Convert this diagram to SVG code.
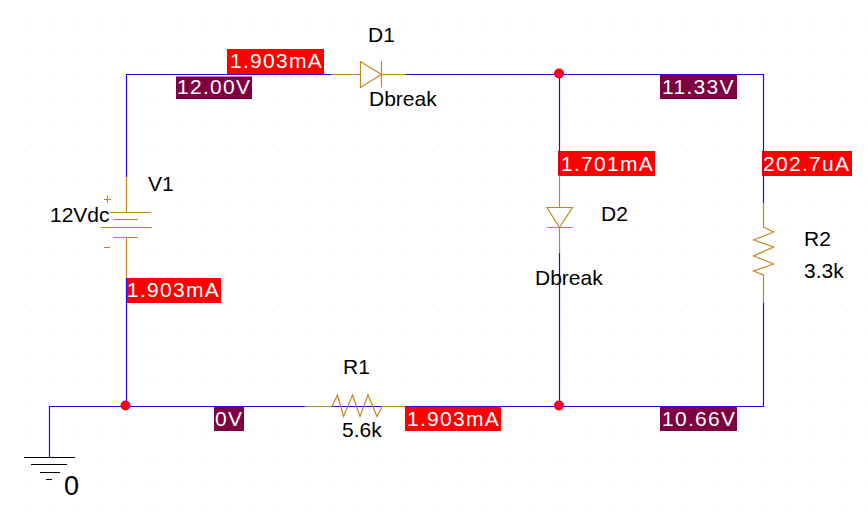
<svg xmlns="http://www.w3.org/2000/svg" width="868" height="526" viewBox="0 0 868 526">
<style>
text{font-family:"Liberation Sans",Arial,sans-serif;font-size:21px;fill:#000}
.w{fill:none;stroke:#3300e6;stroke-width:1.2}
.p{fill:none;stroke:#c8841c;stroke-width:1.2}
.k{fill:none;stroke:#000;stroke-width:1.2}
.i{fill:#ff0000}
.v{fill:#7f0040}
.t{fill:#fff;font-size:21px;letter-spacing:1.3px}
.n{fill:#ff0000}
</style>
<defs>
<pattern id="grid" x="24" y="23.5" width="25.5" height="25.5" patternUnits="userSpaceOnUse"><rect x="0" y="0" width="1" height="1" fill="#c4e6f6"/></pattern>
</defs>
<rect width="868" height="526" fill="#fff"/>
<rect width="868" height="526" fill="url(#grid)"/>
<g id="boxes">
<rect class="i" x="227" y="49" width="97" height="25"/>
<rect class="v" x="176" y="76.500" width="76" height="22.500"/>
<rect class="v" x="660" y="74.500" width="77" height="24.500"/>
<rect class="i" x="558" y="151" width="97" height="25"/>
<rect class="i" x="762" y="151" width="90" height="25"/>
<rect class="i" x="126" y="278" width="95" height="25"/>
<rect class="v" x="214" y="407" width="30" height="24"/>
<rect class="i" x="405" y="407" width="96" height="24"/>
<rect class="v" x="660" y="407" width="77" height="24"/>
</g>
<g id="connectors">
<path class="w" d="M126.500 177V74.500H331M406 74.500H763.500V203M763.500 303V406.500H49.500V457.500M126.500 278V406.500M559.500 74.500V175M559.500 253V406.500"/>
</g>
<g id="V1">
<path class="p" d="M126.500 177V212.500M110 212.500H151M113 219.500H138M101 227.500H152M113 237.500H138M126.500 237.500V278M104 199.500H111M107.500 195.500V203M104 247.500H110"/>
<text x="148" y="191">V1</text>
<text x="50" y="222">12Vdc</text>
</g>
<g id="D1">
<path class="p" d="M331 74.500H360.500M360.500 61.500V87.500L381.500 74.500ZM381.500 61V87.500M381.500 74.500H406"/>
<text x="368" y="42">D1</text>
<text x="369" y="106">Dbreak</text>
</g>
<g id="D2">
<path class="p" d="M559.500 175V207.500M547 207.500H572.500L559.500 227.500ZM547 227.500H573M559.500 227.500V253"/>
<text x="601" y="221">D2</text>
<text x="535" y="285">Dbreak</text>
</g>
<g id="R1">
<path class="p" d="M305 406.500H332L337.500 395L343.500 416.500L352.500 395L360 416.500L368 395L377 416.500L382 406.500H405"/>
<text x="343" y="374">R1</text>
<text x="342" y="437">5.6k</text>
</g>
<g id="R2">
<path class="p" d="M763.500 203V227L773.500 232L753.500 240L773.500 247L753.500 256L773.500 264L753.500 271L763.500 275V303"/>
<text x="804" y="246">R2</text>
<text x="804" y="278">3.3k</text>
</g>
<g id="GND">
<path class="k" d="M24 457.500H75M31 464.500H67M40 472.500H60M46 479.500H52"/>
<text x="64" y="495" style="font-size:27px">0</text>
</g>
<g id="junctions">
<circle class="n" cx="125.500" cy="405.500" r="5"/>
<circle class="n" cx="559" cy="73.500" r="5"/>
<circle class="n" cx="559" cy="405.500" r="5"/>
</g>
<g id="labels">
<text class="t" x="230" y="68">1.903mA</text>
<text class="t" x="177" y="94">12.00V</text>
<text class="t" x="662" y="94">11.33V</text>
<text class="t" x="561" y="171">1.701mA</text>
<text class="t" x="763" y="171">202.7uA</text>
<text class="t" x="127" y="297">1.903mA</text>
<text class="t" x="215" y="426">0V</text>
<text class="t" x="407" y="426">1.903mA</text>
<text class="t" x="662" y="426">10.66V</text>
</g>
</svg>
